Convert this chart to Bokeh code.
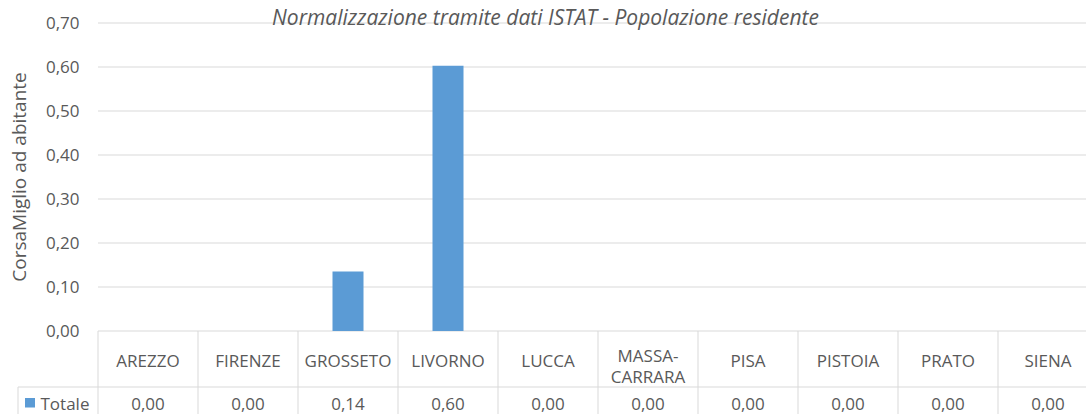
import math
from bokeh.plotting import figure
from bokeh.models import ColumnDataSource, Range1d
from bokeh.core.properties import value
from bokeh.embed import file_html
from bokeh.resources import INLINE

# ---------------- data ----------------
title_text = "Normalizzazione tramite dati ISTAT - Popolazione residente"
y_axis_title = "CorsaMiglio ad abitante"
series_name = "Totale"
categories = ["AREZZO", "FIRENZE", "GROSSETO", "LIVORNO", "LUCCA",
              "MASSA-CARRARA", "PISA", "PISTOIA", "PRATO", "SIENA"]
values = [0.0, 0.0, 0.135, 0.603, 0.0, 0.0, 0.0, 0.0, 0.0, 0.0]
y_ticks = [0.0, 0.1, 0.2, 0.3, 0.4, 0.5, 0.6, 0.7]
y_tick_labels = ["0,00", "0,10", "0,20", "0,30", "0,40", "0,50", "0,60", "0,70"]

# ---------------- style / layout ----------------
FONT = "Open Sans"
TXT = "#595959"
GRID = "#D9D9D9"
BAR = "#5B9BD5"
FS = "17px"

W, H = 1086, 414
X0_PX, PX_PER_CAT = 97.5, 100.0      # pixel of x=0, pixels per category
Y0_PX, PX_PER_UNIT = 330.5, 440.0    # pixel of value 0, pixels per unit


def xp(px):   # layout helper: pixel column -> x coordinate
    return (px - X0_PX) / PX_PER_CAT


def yp(py):   # layout helper: pixel row -> y coordinate
    return (Y0_PX - py) / PX_PER_UNIT


n = len(categories)
xs = [i + 0.5 for i in range(n)]
cat_text = [c.replace("-", "-\n") for c in categories]
cat_y = [yp(365.5) if "\n" in c else yp(359.5) for c in cat_text]
value_text = [f"{v:.2f}".replace(".", ",") for v in values]

src = ColumnDataSource(dict(x=xs, top=values, cat=cat_text, caty=cat_y,
                            val=value_text, valy=[yp(403)] * n))

p = figure(width=W, height=H, output_backend="svg", toolbar_location=None,
           x_range=Range1d(xp(0), xp(W)), y_range=Range1d(yp(H), yp(0)),
           x_axis_location=None, y_axis_location=None,
           min_border=0, min_border_left=0, min_border_right=0,
           min_border_top=0, min_border_bottom=0)
p.outline_line_color = None
p.background_fill_color = "white"
p.border_fill_color = "white"
p.grid.visible = False

# horizontal gridlines from the tick values
p.segment(x0=[0] * len(y_ticks), x1=[n] * len(y_ticks), y0=y_ticks, y1=y_ticks,
          line_color=GRID, line_width=1)

# y tick labels
p.text(x=[xp(79)] * len(y_ticks), y=y_ticks, text=y_tick_labels,
       text_align="right", text_baseline="middle",
       text_font=value(FONT), text_font_size=FS, text_color=TXT)

# bars
p.vbar(x="x", top="top", bottom=0, width=0.31, source=src,
       fill_color=BAR, line_color=None)

# data table grid
bounds = list(range(n + 1))
p.segment(x0=bounds, x1=bounds, y0=[0] * len(bounds), y1=[yp(H + 10)] * len(bounds),
          line_color=GRID, line_width=1)
p.segment(x0=[xp(17.5)], x1=[n], y0=[yp(386.5)], y1=[yp(386.5)],
          line_color=GRID, line_width=1)
p.segment(x0=[xp(17.5)], x1=[xp(17.5)], y0=[yp(386.5)], y1=[yp(H + 10)],
          line_color=GRID, line_width=1)

# data table texts
p.text(x="x", y="caty", text="cat", source=src,
       text_align="center", text_baseline="middle", text_line_height=0.95,
       text_font=value(FONT), text_font_size=FS, text_color=TXT)
p.text(x="x", y="valy", text="val", source=src,
       text_align="center", text_baseline="middle",
       text_font=value(FONT), text_font_size=FS, text_color=TXT)

# series key + name
p.quad(left=[xp(24.5)], right=[xp(34.5)], top=[yp(397.5)], bottom=[yp(407)],
       fill_color=BAR, line_color=None)
p.text(x=[xp(40)], y=[yp(403)], text=[series_name], text_align="left",
       text_baseline="middle", text_font=value(FONT), text_font_size=FS,
       text_color=TXT)

# axis title
p.text(x=[xp(18.5)], y=[yp(176.5)], text=[y_axis_title], angle=math.pi / 2,
       text_align="center", text_baseline="alphabetic",
       text_font=value(FONT), text_font_size="19px", text_color=TXT)

# chart title
p.text(x=[xp(545)], y=[yp(16.5)], text=[title_text], text_align="center",
       text_baseline="alphabetic", text_font=value(FONT),
       text_font_style="italic", text_font_size="21px", text_color=TXT)

open("out.html", "w").write(file_html(p, INLINE))
